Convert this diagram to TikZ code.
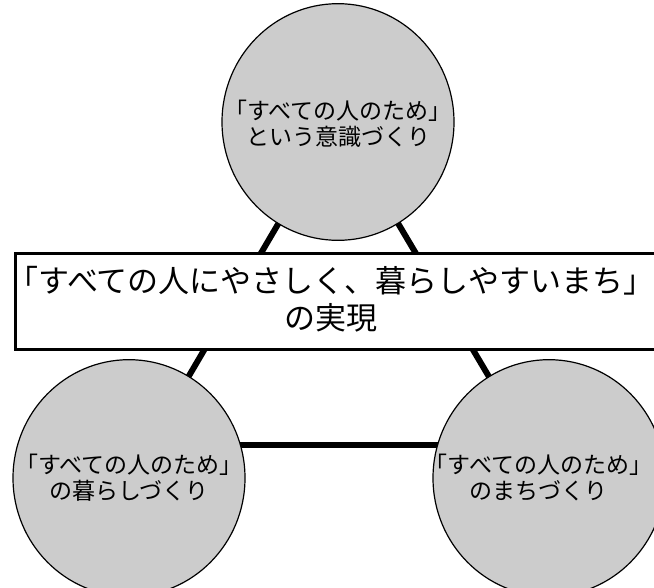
\documentclass[tikz,border=0pt]{standalone}
\usepackage{fontspec}
\setmainfont{Noto Sans CJK JP}
\usetikzlibrary{backgrounds}
\begin{document}
\begin{tikzpicture}[x=1pt,y=-1pt,
  circ/.style={circle, draw=black, line width=1.2pt, fill=black!20, inner sep=0pt, minimum size=232pt},
  ctext/.style={align=center, inner sep=0pt, font=\fontsize{23}{26}\selectfont},
  conn/.style={draw=black, line width=6pt},
  mainbox/.style={rectangle, draw=black, line width=3pt, fill=white, inner sep=0pt},
  maintext/.style={align=center, inner sep=0pt, font=\fontsize{31}{37}\selectfont}]
\useasboundingbox (0,0) rectangle (654,587);
\clip (0,0) rectangle (654,587);
\node[circ, yscale=1.02] (top) at (338,122) {};
\node[circ, yscale=1.02] (bl) at (129,478) {};
\node[circ, yscale=1.02] (br) at (549,478) {};
\node[ctext] (toptext) at ([yshift=-2pt]top.center) {「すべての人のため」\\という意識づくり};
\node[ctext] (bltext) at (bl.center) {「すべての人のため」\\の暮らしづくり};
\node[ctext] (brtext) at ([xshift=-10.5pt]br.center) {「すべての人のため」\\のまちづくり};
\begin{scope}[on background layer]
\draw[conn] (top.center) -- (bl.center);
\draw[conn] (top.center) -- (br.center);
\draw[conn] ([yshift=33pt]bl.center) -- ([yshift=33pt]br.center);
\end{scope}
\node[mainbox, minimum width=655pt, minimum height=96pt] (box) at (342.5,301.5) {};
\node[maintext] (boxtext) at (331,299) {「すべての人にやさしく、暮らしやすいまち」\\の実現};
\end{tikzpicture}
\end{document}
